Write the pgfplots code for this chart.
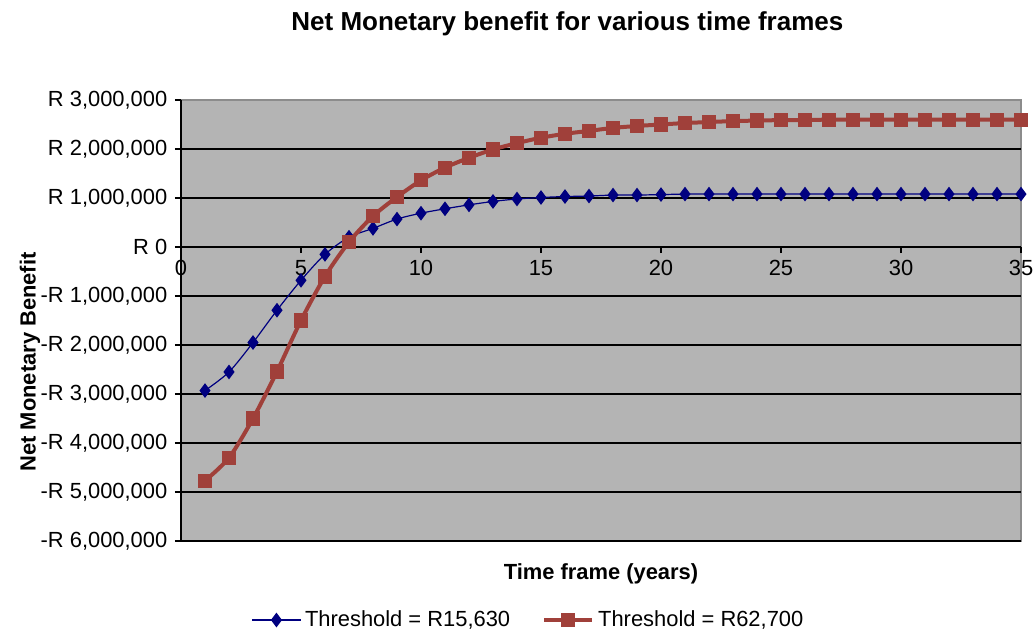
\documentclass[11pt,border=0pt]{standalone}
\usepackage{pgfplots}
\pgfplotsset{compat=1.18}
\usepackage{fontspec}
\setmainfont{Liberation Sans}
\definecolor{plotbg}{RGB}{180,180,180}
\definecolor{plotborder}{RGB}{140,140,140}
\definecolor{navyline}{RGB}{0,0,128}
\definecolor{brick}{RGB}{160,64,58}

\pgfplotstableread{
x  low      high
1  -2930000 -4770000
2  -2550000 -4300000
3  -1950000 -3500000
4  -1290000 -2540000
5  -680000  -1500000
6  -150000  -600000
7  200000   100000
8  380000   630000
9  570000   1020000
10 690000   1360000
11 780000   1620000
12 860000   1820000
13 930000   1990000
14 980000   2120000
15 1010000  2230000
16 1030000  2310000
17 1040000  2370000
18 1060000  2430000
19 1060000  2470000
20 1070000  2500000
21 1080000  2530000
22 1080000  2550000
23 1080000  2570000
24 1080000  2580000
25 1080000  2590000
26 1080000  2590000
27 1080000  2600000
28 1080000  2600000
29 1080000  2600000
30 1080000  2600000
31 1080000  2600000
32 1080000  2600000
33 1080000  2600000
34 1080000  2600000
35 1080000  2600000
}\nmbdata

\begin{document}
\begin{tikzpicture}
\useasboundingbox (-90.5pt,-45.5pt) rectangle (426pt,270.5pt);
\begin{axis}[
  scale only axis, width=420pt, height=220.5pt,
  xmin=0, xmax=35, ymin=-6000000, ymax=3000000,
  axis x line=middle, axis y line=left,
  axis line style={-, black, line width=0.8pt},
  hide obscured x ticks=false,
  tick align=outside, major tick length=3pt,
  tick style={black, line width=0.6pt},
  xtick={0,5,...,35},
  ytick={-6000000,-5000000,-4000000,-3000000,-2000000,-1000000,0,1000000,2000000},
  yticklabels={-R 6{,}000{,}000,-R 5{,}000{,}000,-R 4{,}000{,}000,-R 3{,}000{,}000,-R 2{,}000{,}000,-R 1{,}000{,}000,R 0,R 1{,}000{,}000,R 2{,}000{,}000},
  extra y ticks={3000000},
  extra y tick labels={R 3{,}000{,}000},
  extra y tick style={grid=none},
  scaled y ticks=false,
  ymajorgrids=true,
  major grid style={black, line width=0.8pt},
  /pgf/number format/assume math mode=true,
  axis background/.style={fill=plotbg, draw=plotborder, line width=0.6pt},
  clip=false,
  title={Net Monetary benefit for various time frames},
  title style={font=\fontsize{13}{15}\selectfont\bfseries, at={(axis description cs:0.46,1)}, anchor=center, yshift=32pt},
  xlabel={Time frame (years)},
  xlabel style={font=\bfseries, at={(axis description cs:0.5,0)}, anchor=north, yshift=-7.5pt},
  ylabel={Net Monetary Benefit},
  ylabel style={font=\bfseries, at={(axis description cs:-0.1798,0.406)}, anchor=center},
  legend style={at={(axis description cs:0.415,0)}, anchor=center, yshift=-39.5pt,
    draw=none, fill=none, legend columns=2,
    /tikz/every even column/.append style={column sep=14pt}},
  legend image code/.code={\draw[mark repeat=2,mark phase=2] plot coordinates {(0pt,0pt) (12pt,0pt) (24pt,0pt)};},
]
\addplot[navyline, line width=0.6pt, smooth, mark=diamond*, mark size=3.2pt, mark options={fill=navyline}]
  table[x=x, y=low] {\nmbdata};
\addplot[brick, line width=2pt, smooth, mark=square*, mark size=3.3pt, mark options={fill=brick, line width=0.5pt}]
  table[x=x, y=high] {\nmbdata};
\legend{Threshold = R15{,}630, Threshold = R62{,}700}
\end{axis}
\end{tikzpicture}
\end{document}
